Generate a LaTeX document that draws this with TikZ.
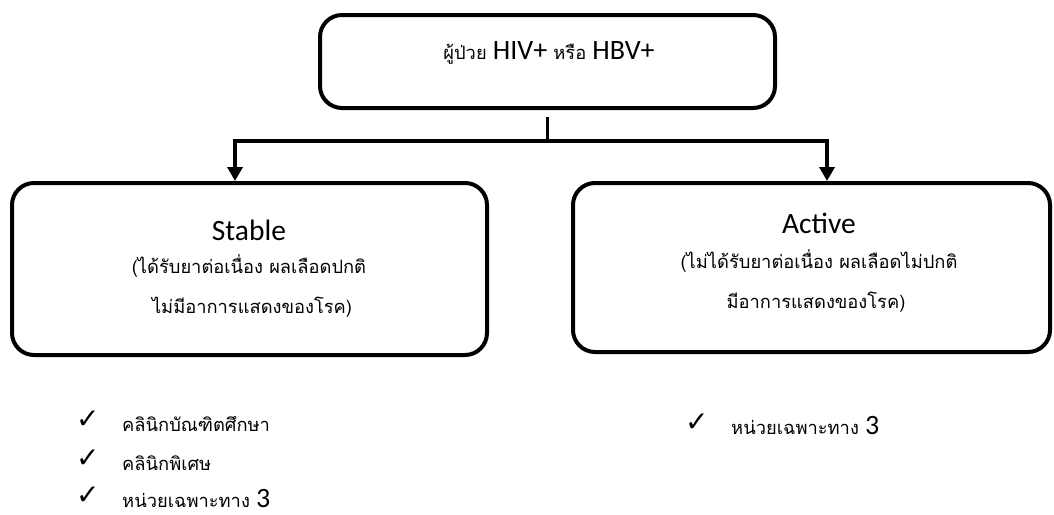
\documentclass[tikz,border=0pt]{standalone}
\usepackage{fontspec}
\setmainfont{Carlito}
\newfontfamily\thaifont[Script=Thai]{Loma}
\newfontfamily\symfont{DejaVu Sans}
\usetikzlibrary{arrows.meta}
\newcommand\latin[1]{{\rmfamily\fontsize{28}{32}\selectfont #1}}
\begin{document}
\begin{tikzpicture}[x=1pt,y=-1pt,
  box/.style={draw,line width=4pt,rounded corners=22pt,inner sep=0pt},
  flow/.style={line width=3.5pt},
  flowarrow/.style={flow,-{Triangle[width=15pt,length=14pt]}},
  thai/.style={font=\thaifont\fontsize{18.3}{22}\selectfont,inner sep=0pt,anchor=base},
  title/.style={font=\fontsize{29.5}{34}\selectfont,inner sep=0pt,anchor=base},
  tick/.style={font=\symfont\fontsize{28}{30}\selectfont,inner sep=0pt,anchor=base west},
  item/.style={font=\thaifont\fontsize{18.3}{22}\selectfont,inner sep=0pt,anchor=base west}]
\useasboundingbox (0,0) rectangle (1054,514);
\fill[white] (0,0) rectangle (1054,514);

% boxes
\node[box,minimum width=455pt,minimum height=93pt] (top) at (547.5,61.5) {};
\node[box,minimum width=475pt,minimum height=172pt] (stable) at (249.5,269) {};
\node[box,minimum width=477pt,minimum height=169pt] (active) at (811.5,267.5) {};

% box texts
\node[thai] (toptext) at (549,59) {ผู้ป่วย \latin{HIV+} หรือ \latin{HBV+}};
\node[title] (stabletitle) at (249,240) {Stable};
\node[thai] (stable1) at (249,273) {(ได้รับยาต่อเนื่อง ผลเลือดปกติ};
\node[thai] (stable2) at (252,313) {ไม่มีอาการแสดงของโรค)};
\node[title] (activetitle) at (819,233) {Active};
\node[thai] (active1) at (819,268) {(ไม่ได้รับยาต่อเนื่อง ผลเลือดไม่ปกติ};
\node[thai] (active2) at (816,308) {มีอาการแสดงของโรค)};

% connectors
\coordinate (split) at (547.5,117);
\coordinate (junction) at (547.5,141);
\coordinate (lbranch) at (235,141);
\coordinate (rbranch) at (827,141);
\draw[flow] (split) -- (junction);
\draw[flow,line cap=rect] (lbranch) -- (rbranch);
\draw[flowarrow] (lbranch) -- (lbranch |- stable.north);
\draw[flowarrow] (rbranch) -- (rbranch |- active.north);

% lists
\node[tick] (t1) at (76,428) {✓};
\node[item] (i1) at (122,431) {คลินิกบัณฑิตศึกษา};
\node[tick] (t2) at (76,467) {✓};
\node[item] (i2) at (122,470) {คลินิกพิเศษ};
\node[tick] (t3) at (76,504) {✓};
\node[item] (i3) at (122,507) {หน่วยเฉพาะทาง \latin{3}};
\node[tick] (t4) at (685,431) {✓};
\node[item] (i4) at (731,434) {หน่วยเฉพาะทาง \latin{3}};
\end{tikzpicture}
\end{document}
